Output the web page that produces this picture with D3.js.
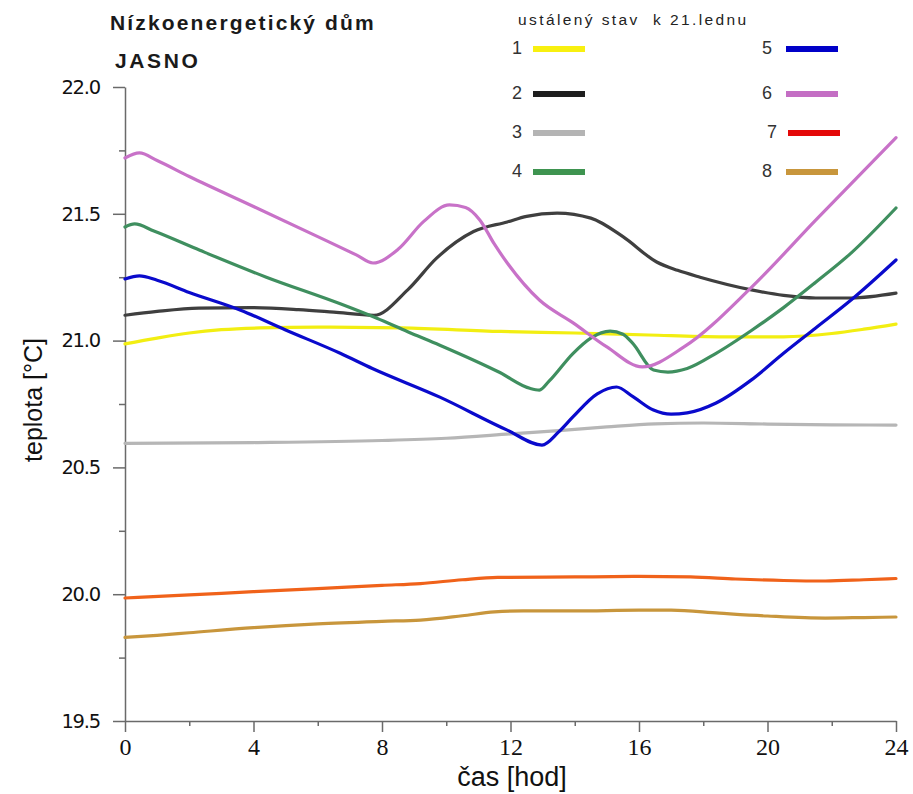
<!DOCTYPE html>
<html>
<head>
<meta charset="utf-8">
<script src="https://cdn.jsdelivr.net/npm/d3@7"></script>
<style>
  html, body { margin: 0; padding: 0; background: #fff; }
  svg { display: block; }
</style>
</head>
<body>
<svg id="chart" width="913" height="794"></svg>
<script>
// ---- data ----
const title = "Nízkoenergetický dům";
const subtitle = "JASNO";
const legendTitle = "ustálený stav  k 21.lednu";
const xLabel = "čas [hod]";
const yLabel = "teplota [°C]";
const xTicks = [0, 4, 8, 12, 16, 20, 24];
const xMinorTicks = [2, 6, 10, 14, 18, 22];
const yTicks = [19.5, 20.0, 20.5, 21.0, 21.5, 22.0];
const yMinorTicks = [19.75, 20.25, 20.75, 21.25, 21.75];
const seriesNames = ["1", "2", "3", "4", "5", "6", "7", "8"];

// [hour, temperature]
const s1 = [[0,20.987],[1,21.01],[2,21.03],[3,21.043],[4.2,21.05],[6,21.053],[8.6,21.05],[11.7,21.036],[14,21.03],[16.3,21.022],[18.5,21.015],[20.5,21.015],[22,21.028],[23,21.045],[24,21.065]];
const s2 = [[0,21.10],[1,21.115],[2.3,21.128],[3.9,21.13],[5.4,21.122],[6.5,21.112],[7.75,21.10],[8.8,21.2],[9.7,21.325],[10.85,21.43],[11.9,21.468],[12.5,21.49],[13.45,21.503],[14.5,21.483],[15.5,21.41],[16.55,21.31],[17.2,21.277],[17.9,21.25],[19.5,21.2],[20.5,21.178],[21.5,21.168],[22.6,21.168],[24,21.187]];
const s3 = [[0,20.595],[4,20.598],[8,20.606],[10,20.615],[12,20.632],[13.5,20.645],[15,20.66],[16.5,20.672],[18,20.675],[20,20.671],[22,20.668],[24,20.667]];
const s4 = [[0,21.448],[0.3,21.46],[0.9,21.432],[2.33,21.356],[4.4,21.25],[6.7,21.145],[7.84,21.088],[8.8,21.035],[9.8,20.982],[11.67,20.874],[12.6,20.812],[12.9,20.805],[13.2,20.84],[13.95,20.95],[14.5,21.01],[15.1,21.037],[15.5,21.025],[15.8,20.99],[16.45,20.884],[16.9,20.876],[17.5,20.89],[18.4,20.95],[19.5,21.04],[20.5,21.13],[21.5,21.23],[22.6,21.345],[24,21.523]];
const s5 = [[0,21.243],[0.45,21.255],[1.0,21.238],[2,21.19],[3.6,21.12],[5,21.042],[6.7,20.95],[7.7,20.89],[9.8,20.777],[11.9,20.647],[12.98,20.588],[13.5,20.64],[13.95,20.70],[14.7,20.79],[15.3,20.817],[15.8,20.78],[16.45,20.726],[17.0,20.71],[17.5,20.715],[18.4,20.754],[19.5,20.845],[20.5,20.95],[21.5,21.05],[22.6,21.16],[24,21.318]];
const s6 = [[0,21.72],[0.45,21.74],[1.0,21.71],[2,21.647],[4,21.529],[6,21.41],[7.2,21.338],[7.72,21.306],[8.5,21.36],[9.3,21.47],[10.1,21.535],[10.6,21.525],[11.05,21.475],[11.5,21.38],[11.9,21.306],[12.9,21.16],[13.95,21.07],[15.0,20.975],[16.1,20.896],[17.4,20.975],[19.5,21.21],[21.5,21.475],[24,21.80]];
const s7 = [[0,19.985],[2,19.997],[4,20.01],[6,20.022],[8,20.035],[9.2,20.042],[10.5,20.057],[11.6,20.066],[14,20.068],[16,20.07],[17.6,20.068],[19,20.06],[20.5,20.054],[21.8,20.052],[23,20.057],[24,20.062]];
const s8 = [[0,19.83],[1,19.838],[2,19.848],[4,19.868],[6,19.883],[8,19.893],[9.2,19.898],[10.5,19.915],[11.5,19.93],[12.4,19.934],[14,19.934],[16,19.937],[17,19.937],[18.5,19.925],[20,19.914],[21.8,19.906],[23,19.908],[24,19.91]];
const allSeries = [s1, s2, s3, s4, s5, s6, s7, s8];

// ---- styles ----
const lineColors   = ["#f2ee12", "#3f3f3f", "#b6b6b6", "#3f8f5f", "#0a0acc", "#c872c8", "#f0621a", "#c8963c"];
const legendColors = ["#f8f010", "#1e1e1e", "#b4b4b4", "#3e9450", "#0000c8", "#c46ec4", "#e40808", "#c8963c"];

const svg = d3.select("#chart");
const x = d3.scaleLinear().domain([0, 24]).range([125, 896]);
const y = d3.scaleLinear().domain([19.5, 22]).range([721, 87]);

// axes
const axisColor = "#6a6a6a";
function styleAxis(g) {
  g.selectAll(".domain").attr("stroke", axisColor).attr("stroke-width", 1.5);
  g.selectAll(".tick line").attr("stroke", axisColor).attr("stroke-width", 1.5);
}
const yAxis = svg.append("g").attr("transform", "translate(125,0)")
  .call(d3.axisLeft(y).tickValues(yTicks).tickFormat(d3.format(".1f")).tickSize(12).tickSizeOuter(0).tickPadding(13));
styleAxis(yAxis);
yAxis.selectAll("text").attr("font-family", "DejaVu Sans").attr("font-size", 19.5)
  .attr("letter-spacing", "-1.2").attr("fill", "#111");
const yMinor = svg.append("g").attr("transform", "translate(125,0)")
  .call(d3.axisLeft(y).tickValues(yMinorTicks).tickFormat("").tickSize(6).tickSizeOuter(0));
styleAxis(yMinor);
yMinor.select(".domain").remove();

const xAxis = svg.append("g").attr("transform", "translate(0,721)")
  .call(d3.axisBottom(x).tickValues(xTicks).tickFormat(d3.format("d")).tickSize(11).tickSizeOuter(0).tickPadding(6));
styleAxis(xAxis);
xAxis.selectAll("text").attr("font-family", "Liberation Serif").attr("font-size", 24).attr("fill", "#111");
const xMinor = svg.append("g").attr("transform", "translate(0,721)")
  .call(d3.axisBottom(x).tickValues(xMinorTicks).tickFormat("").tickSize(5).tickSizeOuter(0));
styleAxis(xMinor);
xMinor.select(".domain").remove();

// axis titles
svg.append("text").attr("x", 512).attr("y", 786).attr("text-anchor", "middle")
  .attr("font-family", "Liberation Sans").attr("font-size", 27).attr("fill", "#111").text(xLabel);
svg.append("text").attr("transform", "translate(42,400) rotate(-90)").attr("text-anchor", "middle")
  .attr("font-family", "Liberation Sans").attr("font-size", 25).attr("fill", "#111").text(yLabel);

// lines
const line = d3.line().x(d => x(d[0])).y(d => y(d[1])).curve(d3.curveMonotoneX);
svg.append("g").selectAll("path").data(allSeries).join("path")
  .attr("d", line).attr("fill", "none")
  .attr("stroke", (d, i) => lineColors[i]).attr("stroke-width", 3.2)
  .attr("stroke-linejoin", "round").attr("stroke-linecap", "round");

// titles
svg.append("text").attr("x", 110).attr("y", 30).attr("font-family", "Liberation Sans").attr("font-weight", "bold")
  .attr("font-size", 21).attr("letter-spacing", 2.15).attr("fill", "#1a1a1a").text(title);
svg.append("text").attr("x", 115).attr("y", 68).attr("font-family", "Liberation Sans").attr("font-weight", "bold")
  .attr("font-size", 21).attr("letter-spacing", 2.6).attr("fill", "#1a1a1a").text(subtitle);

// legend
svg.append("text").attr("x", 518).attr("y", 25).attr("font-family", "Liberation Sans")
  .attr("font-size", 15.5).attr("letter-spacing", 2.4).attr("fill", "#222").style("white-space", "pre").text(legendTitle);
const legendRowsY = [48, 93, 132, 171];
const lg = svg.append("g");
seriesNames.forEach((name, i) => {
  const col = Math.floor(i / 4), row = i % 4;
  const nx = col === 0 ? 512 : 762;
  const lx0 = col === 0 ? 533 : 786;
  const ly = legendRowsY[row] + 1;
  lg.append("text").attr("x", nx + (col === 1 && row === 2 ? 5 : 0)).attr("y", legendRowsY[row] + 6)
    .attr("font-family", "Liberation Sans").attr("font-size", 18).attr("fill", "#333").text(name);
  lg.append("line").attr("x1", lx0 + (col === 1 && row === 2 ? 2 : 0)).attr("x2", lx0 + 52 + (col === 1 && row === 2 ? 2 : 0))
    .attr("y1", ly).attr("y2", ly).attr("stroke", legendColors[i]).attr("stroke-width", 6);
});
</script>
</body>
</html>
